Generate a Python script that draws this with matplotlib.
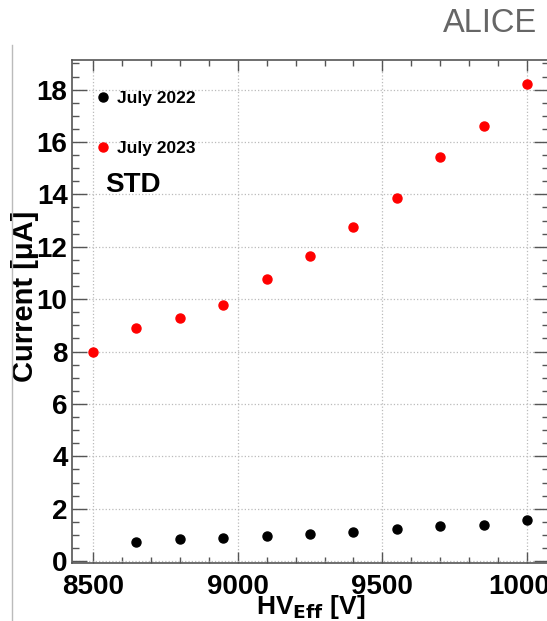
import matplotlib
matplotlib.use("Agg")
import matplotlib.pyplot as plt
from matplotlib.ticker import MultipleLocator
from matplotlib.lines import Line2D

# Data
hv_2023 = [8500, 8650, 8800, 8950, 9100, 9250, 9400, 9550, 9700, 9850, 10000]
cur_2023 = [7.99, 8.90, 9.29, 9.79, 10.76, 11.66, 12.76, 13.85, 15.44, 16.60, 18.22]
hv_2022 = [8650, 8800, 8950, 9100, 9250, 9400, 9550, 9700, 9850, 10000]
cur_2022 = [0.72, 0.84, 0.89, 0.97, 1.03, 1.11, 1.21, 1.34, 1.37, 1.59]
labels = ["July 2022", "July 2023"]
xticks = [8500, 9000, 9500, 10000]
yticks = list(range(0, 19, 2))

plt.rcParams['font.family'] = ['Liberation Sans', 'DejaVu Sans']

fig = plt.figure(figsize=(5.47, 6.21), dpi=100)
ax = fig.add_axes([71.7/547, (621-563)/621, (549-71.7)/547, (563-60)/621])

ax.plot(hv_2022, cur_2022, 'o', color='black', markersize=6.5, label=labels[0])
ax.plot(hv_2023, cur_2023, 'o', color='#ff0000', markersize=6.5, label=labels[1])

ax.set_xlim(8426, 10076)
ax.set_ylim(-0.07, 19.13)
ax.set_xticks(xticks)
ax.set_yticks(yticks)
ax.xaxis.set_minor_locator(MultipleLocator(100))
ax.yaxis.set_minor_locator(MultipleLocator(0.5))
ax.tick_params(axis='both', which='both', direction='in', top=True, right=True,
               color='#555555')
ax.tick_params(axis='y', which='major', length=11, width=1, pad=3, labelsize=20)
ax.tick_params(axis='y', which='minor', length=5, width=1)
ax.tick_params(axis='x', which='major', length=8, width=1, pad=8, labelsize=20)
ax.tick_params(axis='x', which='minor', length=4, width=1)
for lab in ax.get_xticklabels() + ax.get_yticklabels():
    lab.set_fontweight('bold')
for sp in ax.spines.values():
    sp.set_color('#555555')
    sp.set_linewidth(1.2)
ax.grid(True, which='major', linestyle=':', color='#bbbbbb', linewidth=0.9)

ax.set_ylabel("Current [μA]", fontsize=21, fontweight='bold')
ax.yaxis.set_label_coords(-0.068, 0.53)
ax.set_xlabel("HV$_{\\mathbf{Eff}}$ [V]", fontsize=19, fontweight='bold', labelpad=-5)

leg = ax.legend(loc='upper left', bbox_to_anchor=(0.018, 0.966), frameon=False,
                prop={'weight': 'bold', 'size': 12.5},
                handlelength=1.0, handletextpad=0.3, labelspacing=2.0,
                borderaxespad=0.4)

ax.text(0.07, 0.752, "STD", transform=ax.transAxes, fontsize=20, fontweight='bold',
        va='center', ha='left')

fig.text(537/547, 1 - 23/621, "ALICE", fontsize=23.5, color='#666666', ha='right', va='center')
fig.add_artist(Line2D([12/547, 12/547], [0, 1 - 45/621], transform=fig.transFigure,
                      color='#bbbbbb', linewidth=1))

fig.savefig("out.png", dpi=100)
